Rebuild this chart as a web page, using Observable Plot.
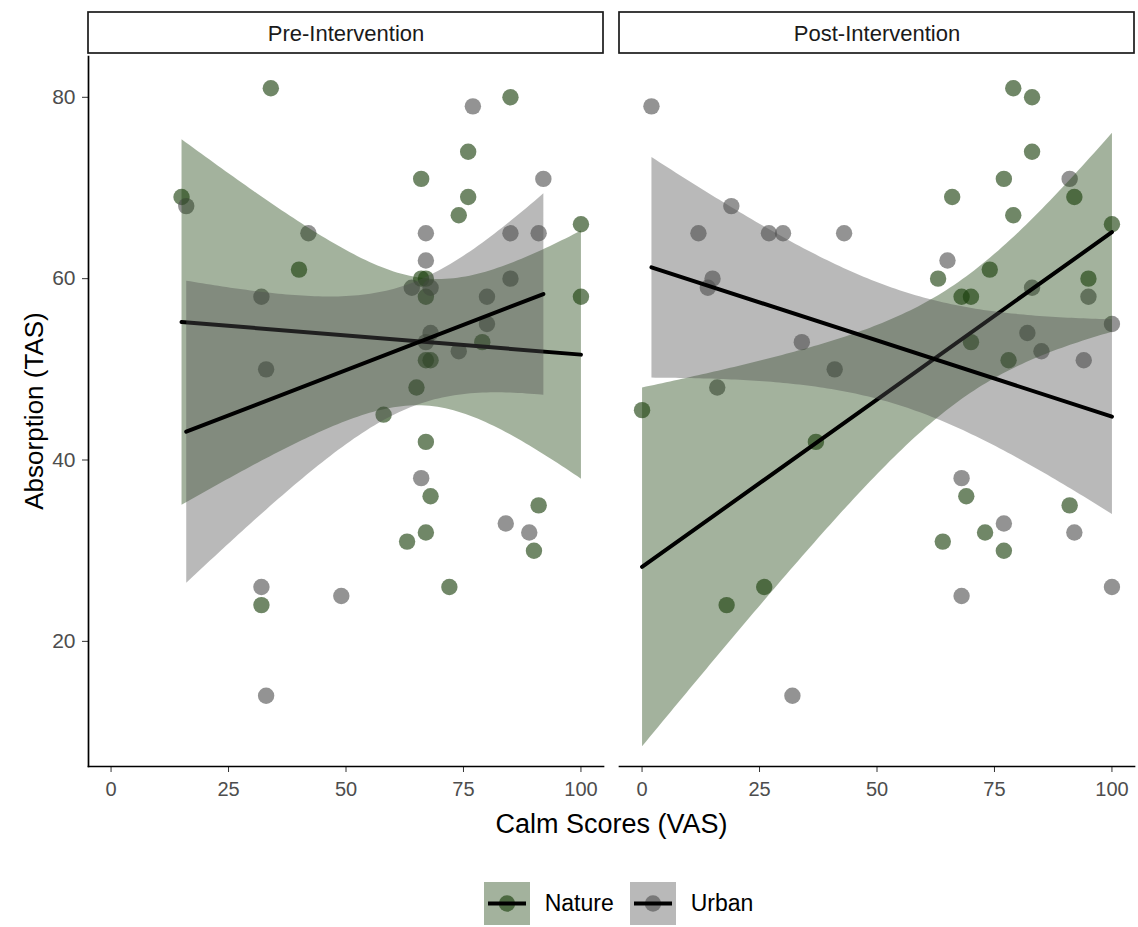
<!DOCTYPE html>
<html>
<head>
<meta charset="utf-8">
<script src="https://cdn.jsdelivr.net/npm/d3@7"></script>
<script src="https://cdn.jsdelivr.net/npm/@observablehq/plot@0.6"></script>
<style>
  body { margin: 0; background: white; font-family: "Liberation Sans", Arial, sans-serif; }
  #wrap { position: relative; width: 1138px; height: 927px; }
  #legend { position: absolute; left: 0; top: 882px; width: 1237px; display: flex; justify-content: center; align-items: center; }
  .item { display: flex; align-items: center; margin-right: 16px; }
  .item:last-child { margin-right: 0; }
  .item span { font-size: 23px; color: #000; margin-left: 15px; }
</style>
</head>
<body>
<div id="wrap">
  <div id="chart"></div>
  <div id="legend"></div>
</div>
<script>
// ---- data ----
const phases = ["Pre-Intervention", "Post-Intervention"];
const groups = ["Nature", "Urban"];
const xTicks = [0, 25, 50, 75, 100];
const yTicks = [20, 40, 60, 80];

const preNatureCalm = [34, 85, 76, 66, 76, 15, 74, 100, 40, 66, 67, 67, 100, 79, 67, 68, 65, 58, 67, 68, 91, 67, 63, 90, 72, 32];
const preNatureAbs  = [81, 80, 74, 71, 69, 69, 67, 66, 61, 60, 60, 58, 58, 53, 51, 51, 48, 45, 42, 36, 35, 32, 31, 30, 26, 24];

const preUrbanCalm = [77, 92, 16, 42, 67, 85, 91, 67, 85, 64, 68, 32, 80, 80, 68, 67, 74, 33, 66, 84, 89, 32, 49, 33];
const preUrbanAbs  = [79, 71, 68, 65, 65, 65, 65, 62, 60, 59, 59, 58, 58, 55, 54, 53, 52, 50, 38, 33, 32, 26, 25, 14];

const postNatureCalm = [79, 83, 83, 77, 66, 92, 79, 100, 74, 63, 95, 68, 70, 70, 78, 0, 37, 69, 91, 73, 64, 77, 26, 18];
const postNatureAbs  = [81, 80, 74, 71, 69, 69, 67, 66, 61, 60, 60, 58, 58, 53, 51, 45.5, 42, 36, 35, 32, 31, 30, 26, 24];

const postUrbanCalm = [2, 91, 19, 12, 27, 30, 43, 65, 15, 14, 83, 95, 100, 82, 34, 85, 94, 41, 16, 68, 77, 92, 100, 68, 32];
const postUrbanAbs  = [79, 71, 68, 65, 65, 65, 65, 62, 60, 59, 59, 58, 55, 54, 53, 52, 51, 50, 48, 38, 33, 32, 26, 25, 14];

const groupColors = ["#193e0a", "#505050"];

// ---- table built from the arrays ----
const rows = [];
function addSeries(phase, group, xs, ys) {
  xs.forEach((x, i) => rows.push({phase, group, calm: x, abs: ys[i]}));
}
addSeries(phases[0], groups[0], preNatureCalm, preNatureAbs);
addSeries(phases[0], groups[1], preUrbanCalm, preUrbanAbs);
addSeries(phases[1], groups[0], postNatureCalm, postNatureAbs);
addSeries(phases[1], groups[1], postUrbanCalm, postUrbanAbs);

const W = 1138, H = 855, mL = 88, mR = 3, mT = 56, mB = 89;

const chart = Plot.plot({
  width: W, height: H,
  marginLeft: mL, marginRight: mR, marginTop: mT, marginBottom: mB,
  style: {fontFamily: "'Liberation Sans', Arial, sans-serif", background: "white", overflow: "visible"},
  fx: {domain: phases, paddingInner: 0.0301, paddingOuter: 0, label: null},
  x: {domain: [-4.8, 104.8]},
  y: {domain: [6.2, 84.5]},
  color: {domain: groups, range: groupColors},
  marks: [
    Plot.dot(rows, {x: "calm", y: "abs", fx: "phase", fill: "group", r: 8.2, fillOpacity: 0.62}),
    Plot.linearRegressionY(rows, {x: "calm", y: "abs", fx: "phase", z: "group", fill: "group", fillOpacity: 0.4, stroke: "black", strokeWidth: 4, ci: 0.95}),
    Plot.axisX({ticks: xTicks, tickSize: 6, tickPadding: 9, fontSize: 20, fill: "#4d4d4d", stroke: "#333", label: null}),
    Plot.axisY({ticks: yTicks, tickSize: 6, tickPadding: 7, fontSize: 21, fill: "#4d4d4d", stroke: "#333", label: null}),
    Plot.axisFx({anchor: "top", tickSize: 0, tickPadding: 16, fontSize: 22, fill: "#1a1a1a", label: null}),
    Plot.frame({anchor: "bottom", strokeWidth: 1.7}),
    Plot.frame({anchor: "left", facetAnchor: "left", strokeWidth: 1.7})
  ]
});

const svg = d3.select(chart);
const fx = chart.scale("fx");
// facet strips behind the facet labels
svg.insert("g", "g")
  .selectAll("rect").data(phases).join("rect")
  .attr("x", d => fx.apply(d))
  .attr("y", 12)
  .attr("width", fx.bandwidth)
  .attr("height", 41)
  .attr("fill", "white")
  .attr("stroke", "#1a1a1a")
  .attr("stroke-width", 1.7);

// axis titles
svg.append("text")
  .attr("x", (mL + W - mR) / 2)
  .attr("y", 833)
  .attr("text-anchor", "middle")
  .attr("font-size", 27)
  .attr("fill", "black")
  .text("Calm Scores (VAS)");
svg.append("text")
  .attr("transform", `translate(34,${(mT + H - mB) / 2}) rotate(-90)`)
  .attr("text-anchor", "middle")
  .attr("dy", "0.35em")
  .attr("font-size", 26)
  .attr("fill", "black")
  .text("Absorption (TAS)");

document.getElementById("chart").appendChild(chart);

// legend
const legend = d3.select("#legend");
groups.forEach((g, i) => {
  const item = legend.append("div").attr("class", "item");
  const s = item.append("svg").attr("width", 46).attr("height", 43);
  s.append("rect").attr("width", 46).attr("height", 43).attr("fill", groupColors[i]).attr("fill-opacity", 0.4);
  s.append("circle").attr("cx", 23).attr("cy", 21.5).attr("r", 8.2).attr("fill", groupColors[i]).attr("fill-opacity", 0.62);
  s.append("line").attr("x1", 4).attr("x2", 42).attr("y1", 21.5).attr("y2", 21.5).attr("stroke", "black").attr("stroke-width", 4);
  item.append("span").text(g);
});
</script>
</body>
</html>
